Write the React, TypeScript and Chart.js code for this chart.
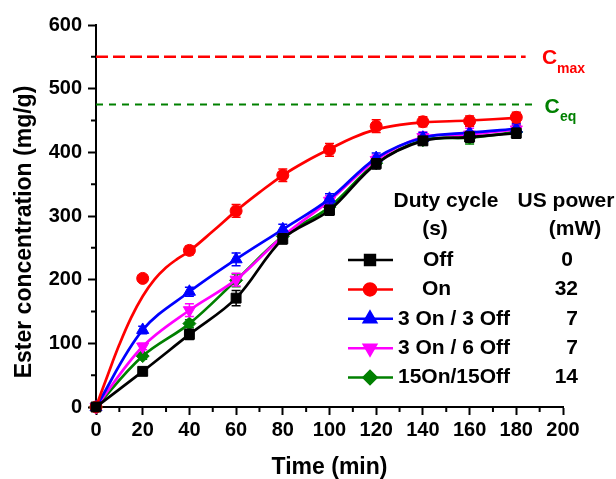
import React, { useEffect, useRef } from 'react';
import { Chart, registerables } from 'chart.js';
import { drawPoint } from 'chart.js/helpers';

Chart.register(...registerables);

const FONT = "'Liberation Sans', Arial, Helvetica, sans-serif";

// ---- data ----
const timeMin = [0, 20, 40, 60, 80, 100, 120, 140, 160, 180];
const offValues = [0, 56, 114, 171, 264, 309, 382, 418, 424, 430];
const onValues = [0, 202, 246, 308, 364, 404, 441, 448, 449, 455];
const on3off3Values = [0, 121, 181, 232, 279, 327, 391, 423, 431, 437];
const on3off6Values = [0, 95, 152, 200, 268, 324, 388, 424, 428, 436];
const on15off15Values = [0, 80, 131, 199, 268, 314, 383, 419, 423, 432];

const offErr = [0, 6, 8, 12, 8, 8, 8, 6, 8, 8];
const onErr = [0, 5, 7, 10, 10, 10, 10, 8, 8, 8];
const on3off3Err = [0, 6, 7, 10, 8, 8, 8, 8, 10, 8];
const on3off6Err = [0, 5, 10, 10, 8, 8, 8, 8, 10, 8];
const on15off15Err = [0, 5, 6, 10, 6, 8, 6, 6, 10, 10];

// fitted curve for the "On" series
const onFitTimes = [0, 5, 10, 15, 20, 25, 30, 35, 40, 50, 60, 70, 80, 90, 100, 110, 120, 130, 140, 160, 180];
const onFitValues = [0, 50, 98, 140, 174, 200, 219, 233, 245, 276, 308, 337, 364, 386, 405, 423, 436, 443, 447, 450, 454];

const cMaxValue = 550;
const cEqValue = 475;
const cMaxRange = [0, 184];
const cEqRange = [0, 187];

const seriesLabels = ['Off', 'On', '3 On / 3 Off', '3 On / 6 Off', '15On/15Off'];
const usPowerLabels = ['0', '32', '7', '7', '14'];

const xMin = 0, xMax = 200, xStep = 20, xMinorStep = 10;
const yMin = 0, yMax = 600, yStep = 100, yMinorStep = 50;

const RED = '#FF0000';
const BLACK = '#000000';
const BLUE = '#0000FF';
const MAGENTA = '#FF00FF';
const GREEN = '#008000';

const legendStyles = [
  { color: BLACK, pointStyle: 'rect', rotation: 0, radius: 7 },
  { color: RED, pointStyle: 'circle', rotation: 0, radius: 6 },
  { color: BLUE, pointStyle: 'triangle', rotation: 0, radius: 7 },
  { color: MAGENTA, pointStyle: 'triangle', rotation: 180, radius: 7 },
  { color: GREEN, pointStyle: 'rectRot', rotation: 0, radius: 6.5 },
];

const pts = (xs: number[], ys: number[]) => xs.map((x, i) => ({ x, y: ys[i] }));

const annotatePlugin = {
  id: 'annotate',
  beforeDatasetDraw(chart: any, args: any) {
    const ds = chart.data.datasets[args.index] as any;
    if (!ds.errors) return;
    const xs = chart.scales.x, ys = chart.scales.y;
    const ctx = chart.ctx;
    ctx.save();
    ctx.strokeStyle = ds.borderColor;
    ctx.lineWidth = 1.5;
    ds.data.forEach((p: any, i: number) => {
      const e = ds.errors[i];
      if (!e) return;
      const px = xs.getPixelForValue(p.x);
      const top = ys.getPixelForValue(p.y + e);
      const bot = ys.getPixelForValue(p.y - e);
      ctx.beginPath();
      ctx.moveTo(px, top); ctx.lineTo(px, bot);
      ctx.moveTo(px - 4.5, top); ctx.lineTo(px + 4.5, top);
      ctx.moveTo(px - 4.5, bot); ctx.lineTo(px + 4.5, bot);
      ctx.stroke();
    });
    ctx.restore();
  },
  afterDraw(chart: any) {
    const ctx = chart.ctx;
    const xs = chart.scales.x, ys = chart.scales.y;
    const area = chart.chartArea;
    ctx.save();
    // minor ticks
    ctx.strokeStyle = BLACK;
    ctx.lineWidth = 2;
    ctx.beginPath();
    for (let v = yMin + yMinorStep; v < yMax; v += yStep) {
      const py = ys.getPixelForValue(v);
      ctx.moveTo(area.left - 5, py); ctx.lineTo(area.left, py);
    }
    for (let v = xMin + xMinorStep; v < xMax; v += xStep) {
      const px = xs.getPixelForValue(v);
      ctx.moveTo(px, area.bottom); ctx.lineTo(px, area.bottom + 5);
    }
    ctx.stroke();

    // axis titles
    ctx.fillStyle = BLACK;
    ctx.font = `bold 23px ${FONT}`;
    ctx.textAlign = 'center';
    ctx.textBaseline = 'middle';
    ctx.fillText('Time (min)', (area.left + area.right) / 2, 468);
    ctx.save();
    ctx.translate(25, 232);
    ctx.rotate(-Math.PI / 2);
    ctx.fillText('Ester concentration (mg/g)', 0, 0);
    ctx.restore();

    // Cmax / Ceq labels
    const yMaxPx = ys.getPixelForValue(cMaxValue);
    const yEqPx = ys.getPixelForValue(cEqValue);
    ctx.textAlign = 'left';
    ctx.textBaseline = 'alphabetic';
    ctx.fillStyle = RED;
    ctx.font = `bold 21px ${FONT}`;
    ctx.fillText('C', 542, yMaxPx + 7.5);
    ctx.font = `bold 14px ${FONT}`;
    ctx.fillText('max', 557, yMaxPx + 16.5);
    ctx.fillStyle = GREEN;
    ctx.font = `bold 21px ${FONT}`;
    ctx.fillText('C', 544.5, yEqPx + 8);
    ctx.font = `bold 14px ${FONT}`;
    ctx.fillText('eq', 560, yEqPx + 16);

    // legend table
    ctx.fillStyle = BLACK;
    ctx.font = `bold 21px ${FONT}`;
    ctx.textAlign = 'center';
    ctx.textBaseline = 'middle';
    ctx.fillText('Duty cycle', 446, 201);
    ctx.fillText('(s)', 435, 229);
    ctx.fillText('US power', 566, 201);
    ctx.fillText('(mW)', 575, 229);
    const rowTop = 260, rowStep = 29.4;
    const labelLeft = [423, 422, 398, 398, 398];
    seriesLabels.forEach((lab, i) => {
      const y = rowTop + i * rowStep;
      const st = legendStyles[i];
      ctx.strokeStyle = st.color;
      ctx.lineWidth = 2.5;
      ctx.beginPath();
      ctx.moveTo(348, y); ctx.lineTo(393, y);
      ctx.stroke();
      ctx.fillStyle = st.color;
      drawPoint(ctx, { pointStyle: st.pointStyle, rotation: st.rotation, radius: st.radius, borderWidth: 1 } as any, 370, y);
      ctx.fillStyle = BLACK;
      ctx.textAlign = 'left';
      ctx.fillText(lab, labelLeft[i], y);
      ctx.textAlign = 'right';
      ctx.fillText(usPowerLabels[i], i === 0 ? 573 : 578, y);
    });
    ctx.restore();
  },
};

function seriesDataset(label: string, values: number[], errors: number[], color: string, pointStyle: string, rotation: number, radius: number, showLine: boolean) {
  return {
    label,
    data: pts(timeMin, values),
    errors,
    borderColor: color,
    backgroundColor: color,
    borderWidth: 2.7,
    showLine,
    tension: 0.35,
    pointStyle,
    rotation,
    pointRadius: radius,
    pointBorderWidth: 1,
    clip: false,
  } as any;
}

export default function App() {
  const ref = useRef<HTMLCanvasElement | null>(null);
  useEffect(() => {
    if (!ref.current) return;
    const chart = new Chart(ref.current, {
      type: 'scatter',
      data: {
        datasets: [
          {
            label: 'Cmax',
            data: cMaxRange.map((x) => ({ x, y: cMaxValue })),
            borderColor: RED, backgroundColor: RED, borderWidth: 2.5,
            borderDash: [12, 5], showLine: true, pointRadius: 0,
          } as any,
          {
            label: 'Ceq',
            data: cEqRange.map((x) => ({ x, y: cEqValue })),
            borderColor: GREEN, backgroundColor: GREEN, borderWidth: 2,
            borderDash: [7, 6], showLine: true, pointRadius: 0,
          } as any,
          seriesDataset('Off', offValues, offErr, BLACK, 'rect', 0, 7, true),
          {
            label: 'On fit',
            data: pts(onFitTimes, onFitValues),
            borderColor: RED, backgroundColor: RED, borderWidth: 2.7,
            showLine: true, tension: 0.4, pointRadius: 0,
          } as any,
          seriesDataset('On', onValues, onErr, RED, 'circle', 0, 6, false),
          seriesDataset('3 On / 3 Off', on3off3Values, on3off3Err, BLUE, 'triangle', 0, 7, true),
          seriesDataset('3 On / 6 Off', on3off6Values, on3off6Err, MAGENTA, 'triangle', 180, 7, true),
          seriesDataset('15On/15Off', on15off15Values, on15off15Err, GREEN, 'rectRot', 0, 6.5, true),
        ],
      },
      options: {
        responsive: false,
        animation: false,
        events: [],
        layout: { padding: { top: 25, right: 53, left: 0, bottom: 0 } },
        plugins: { legend: { display: false }, tooltip: { enabled: false } },
        scales: {
          x: {
            type: 'linear', min: xMin, max: xMax,
            afterFit: (s: any) => { s.height = 72; },
            border: { display: true, color: BLACK, width: 2 },
            grid: { drawOnChartArea: false, drawTicks: true, tickLength: 8, tickWidth: 2, tickColor: BLACK },
            ticks: { stepSize: xStep, color: BLACK, padding: 3, maxRotation: 0, font: { family: FONT, size: 20, weight: 'bold' } },
          },
          y: {
            type: 'linear', min: yMin, max: yMax,
            afterFit: (s: any) => { s.width = 96; },
            border: { display: true, color: BLACK, width: 2 },
            grid: { drawOnChartArea: false, drawTicks: true, tickLength: 8, tickWidth: 2, tickColor: BLACK },
            ticks: { stepSize: yStep, color: BLACK, padding: 6, font: { family: FONT, size: 20, weight: 'bold' } },
          },
        },
      } as any,
      plugins: [annotatePlugin],
    });
    return () => chart.destroy();
  }, []);
  return (
    <div style={{ position: 'absolute', left: 0, top: 0, width: 616, height: 479, background: '#fff' }}>
      <canvas ref={ref} width={616} height={479} />
    </div>
  );
}
